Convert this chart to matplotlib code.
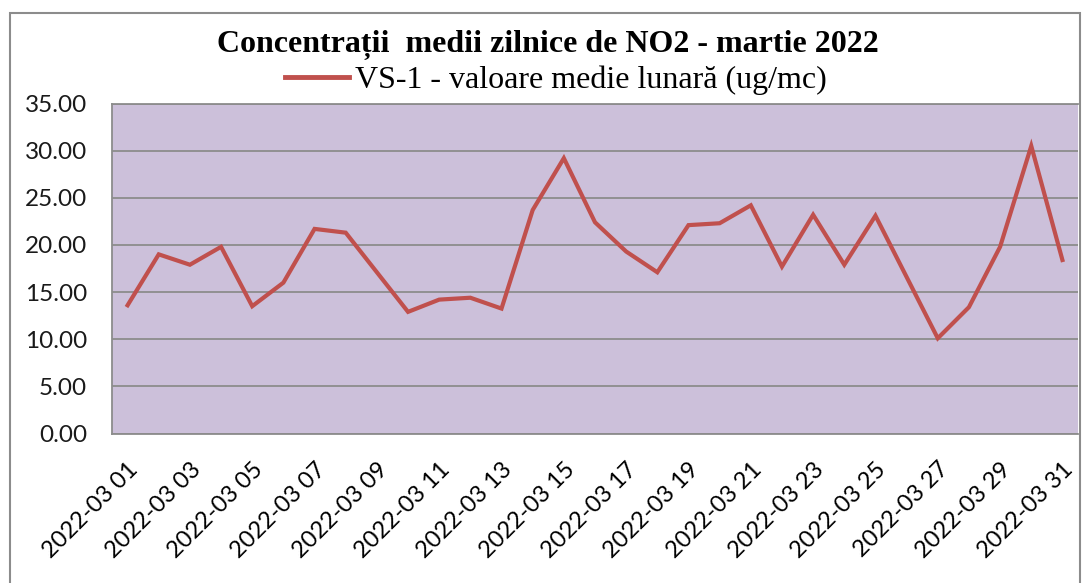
import matplotlib
matplotlib.use("Agg")
import matplotlib.pyplot as plt
from matplotlib.patches import Rectangle
from matplotlib.lines import Line2D

days = list(range(1, 32))
labels = [f"2022-03 {d:02d}" for d in days]
values = [13.6, 19.0, 17.9, 19.8, 13.5, 16.0, 21.7, 21.3, 17.1, 12.9,
          14.2, 14.4, 13.25, 23.7, 29.2, 22.4, 19.3, 17.1, 22.1, 22.3,
          24.2, 17.7, 23.2, 17.9, 23.1, 16.6, 10.1, 13.4, 19.8, 30.5, 18.4]
yticks = [0, 5, 10, 15, 20, 25, 30, 35]
title = "Concentrații  medii zilnice de NO2 - martie 2022"
series_name = "VS-1 - valoare medie lunară (ug/mc)"

W, H = 1086, 583
fig = plt.figure(figsize=(W / 100, H / 100), dpi=100)

# outer border
fig.patches.append(Rectangle((10 / W, -0.01), (1080 - 10) / W, (H - 13) / H + 0.01,
                             transform=fig.transFigure, fill=False,
                             edgecolor="#8c8c8c", linewidth=1.5))

left, right, top, bottom = 112, 1078, 103.5, 433.5
ax = fig.add_axes([left / W, 1 - bottom / H, (right - left) / W, (bottom - top) / H])
ax.set_facecolor("#CCC0DA")
ax.plot(days, values, color="#C0504D", linewidth=3.0, solid_joinstyle="miter")
ax.set_xlim(0.5, 31.5)
ax.set_ylim(0, 35)
ax.set_yticks(yticks)
ax.set_yticklabels([f"{v:.2f}" for v in yticks], fontsize=17.5, family="Lato", color="#1a1a1a")
ax.set_xticks(days[::2])
ax.set_xticklabels(labels[::2], rotation=45, ha="right", rotation_mode="anchor",
                   fontsize=17, family="Lato", color="#000000")
ax.tick_params(axis="both", length=0)
ax.tick_params(axis="y", pad=18)
ax.tick_params(axis="x", pad=18)
ax.grid(axis="y", color="#8c8c8c", linewidth=1.3)
ax.set_axisbelow(True)
for s in ["left", "bottom", "top", "right"]:
    ax.spines[s].set_color("#8c8c8c")
    ax.spines[s].set_linewidth(1.3)
ax.spines["right"].set_visible(False)

fig.text(548 / W, 1 - 45 / H, title, ha="center", va="center",
         fontsize=23, fontweight="bold", family="Liberation Serif")
handle = Line2D([], [], color="#C0504D", linewidth=3.5)
fig.legend([handle], [series_name], loc="center", bbox_to_anchor=(556 / W, 1 - 80 / H),
           frameon=False, prop={"family": "Liberation Serif", "size": 23},
           handlelength=2.0, handletextpad=0.2, borderaxespad=0)

fig.savefig("out.png", dpi=100)
